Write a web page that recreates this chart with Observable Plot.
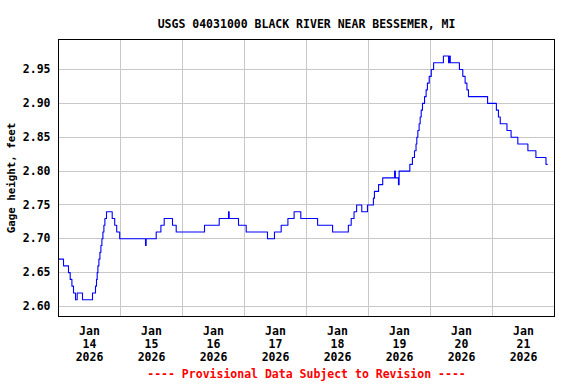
<!DOCTYPE html>
<html>
<head>
<meta charset="utf-8">
<script src="https://cdn.jsdelivr.net/npm/d3@7"></script>
<script src="https://cdn.jsdelivr.net/npm/@observablehq/plot@0.6"></script>
<style>
  html, body { margin: 0; padding: 0; background: #fff; }
  #chart svg { display: block; }
</style>
</head>
<body>
<div id="chart"></div>
<script>
// ---- data ----
const titleText = "USGS 04031000 BLACK RIVER NEAR BESSEMER, MI";
const yLabelText = "Gage height, feet";
const captionText = "---- Provisional Data Subject to Revision ----";
const startTime = "2026-01-14T00:00:00Z";
const endTime = "2026-01-22T00:00:00Z";

// hours after startTime at which the gage reading changed
const changeHours = [
  0, 1.94, 3.87, 4.53, 5.19, 5.81, 6.58, 7.24, 9.29, 13.16,
  14.32, 14.71, 14.98, 15.25, 15.64, 16.03, 16.41, 16.80, 17.19, 17.57,
  17.96, 18.58, 20.79, 21.76, 22.53, 23.69, 33.68, 33.93, 37.82, 39.64,
  40.92, 44.13, 45.56, 56.52, 62.21, 65.81, 66.06, 69.68, 72.66, 80.9,
  83.6, 86.2, 88.8, 91.2, 93.8, 100.3, 106.1, 112.2, 113.3, 114.4,
  115.4, 117.4, 119.6, 121.9, 122.3, 123.9, 125.5, 130.1, 130.4, 131.6,
  131.85, 136.0, 137.0, 137.8, 138.4, 138.7, 139.1, 139.6, 140.0, 140.4,
  140.9, 141.7, 142.3, 142.8, 143.5, 144.3, 145.2, 149.0, 151.0, 151.4,
  151.65, 155.2, 156.5, 157.4, 158.1, 158.7, 166.1, 169.5, 170.3, 171.0,
  173.6, 175.2, 177.8, 181.7, 184.8, 188.7, 189.2
];
// gage height (feet) from each change time on
const gageFeet = [
  2.67, 2.66, 2.65, 2.64, 2.63, 2.62, 2.61, 2.62, 2.61, 2.62,
  2.63, 2.64, 2.65, 2.66, 2.67, 2.68, 2.69, 2.70, 2.71, 2.72,
  2.73, 2.74, 2.73, 2.72, 2.71, 2.70, 2.69, 2.70, 2.71, 2.72,
  2.73, 2.72, 2.71, 2.72, 2.73, 2.74, 2.73, 2.72, 2.71, 2.70,
  2.71, 2.72, 2.73, 2.74, 2.73, 2.72, 2.71, 2.72, 2.73, 2.74,
  2.75, 2.74, 2.75, 2.76, 2.77, 2.78, 2.79, 2.80, 2.79, 2.78,
  2.80, 2.81, 2.82, 2.83, 2.84, 2.85, 2.86, 2.87, 2.88, 2.89,
  2.90, 2.91, 2.92, 2.93, 2.94, 2.95, 2.96, 2.97, 2.96, 2.97,
  2.96, 2.95, 2.94, 2.93, 2.92, 2.91, 2.90, 2.89, 2.88, 2.87,
  2.86, 2.85, 2.84, 2.83, 2.82, 2.81, 2.81
];

const yTicks = [2.60, 2.65, 2.70, 2.75, 2.80, 2.85, 2.90, 2.95];
const labelDays = ["2026-01-14", "2026-01-15", "2026-01-16", "2026-01-17",
                   "2026-01-18", "2026-01-19", "2026-01-20", "2026-01-21"];
const gridDays = ["2026-01-15", "2026-01-16", "2026-01-17", "2026-01-18",
                  "2026-01-19", "2026-01-20", "2026-01-21"];

// ---- build table ----
const t0 = new Date(startTime).getTime();
const series = changeHours.map((h, i) => ({
  time: new Date(t0 + h * 3600000),
  value: gageFeet[i]
}));
const labelTicks = labelDays.map(d => new Date(d + "T12:00:00Z"));
const gridTicks = gridDays.map(d => new Date(d + "T00:00:00Z"));

const font = "DejaVu Sans Mono";
const chart = Plot.plot({
  width: 576,
  height: 384,
  marginTop: 39,
  marginBottom: 68,
  marginLeft: 58,
  marginRight: 22,
  style: {
    fontFamily: font,
    fontWeight: "bold",
    fontSize: "11.5px",
    color: "#000",
    background: "#fff"
  },
  x: { type: "utc", domain: [new Date(startTime), new Date(endTime)] },
  y: { domain: [2.5852, 2.9944] },
  marks: [
    Plot.gridY(yTicks, { stroke: "#c8c8c8", strokeOpacity: 1, shapeRendering: "crispEdges" }),
    Plot.gridX(gridTicks, { stroke: "#c8c8c8", strokeOpacity: 1, shapeRendering: "crispEdges" }),
    Plot.axisY({
      ticks: yTicks, tickFormat: d3.format(".2f"), tickSize: 0, tickPadding: 8,
      label: null, fontWeight: "bold"
    }),
    Plot.axisX({
      ticks: labelTicks, tickFormat: d3.utcFormat("%b\n%-d\n%Y"),
      tickSize: 0, tickPadding: 9, lineHeight: 1.13, label: null, fontWeight: "bold"
    }),
    Plot.line(series, {
      x: "time", y: "value", curve: "step-after",
      stroke: "#0000ff", strokeWidth: 1.1
    }),
    Plot.frame({ stroke: "#000", shapeRendering: "crispEdges" }),
    Plot.text([titleText], {
      frameAnchor: "top", dy: -20, text: d => d, fontWeight: "bold",
      fontSize: 11.5, fill: "#000"
    }),
    Plot.text([yLabelText], {
      frameAnchor: "left", textAnchor: "middle", dx: -46.5, rotate: -90, text: d => d,
      fontWeight: "bold", fontSize: 10.8, fill: "#000"
    }),
    Plot.text([captionText], {
      frameAnchor: "bottom", dy: 61, text: d => d, fontWeight: "bold",
      fontSize: 11.5, fill: "#ff0000"
    })
  ]
});
document.getElementById("chart").appendChild(chart);
</script>
</body>
</html>
